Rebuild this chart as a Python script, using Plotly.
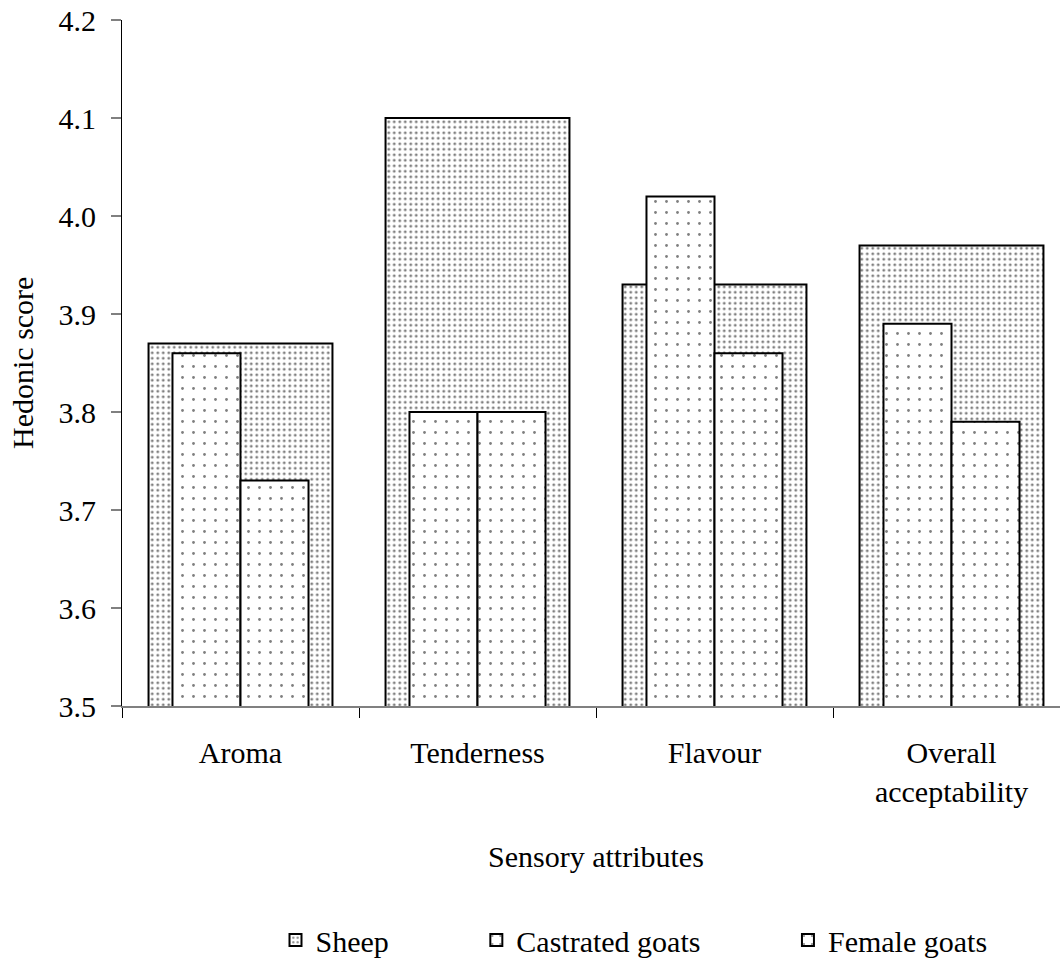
import plotly.graph_objects as go

# Sensory panel results
attributes = ["Aroma", "Tenderness", "Flavour", "Overall<br>acceptability"]
sheep = [3.87, 4.10, 3.93, 3.97]
castrated_goats = [3.86, 3.80, 4.02, 3.89]
female_goats = [3.73, 3.80, 3.86, 3.79]
series_names = ["Sheep", "Castrated goats", "Female goats"]

y_ticks = [3.5, 3.6, 3.7, 3.8, 3.9, 4.0, 4.1, 4.2]

FONT = "Liberation Serif, Times New Roman, serif"
W, H = 1060, 961
L, R, T, B = 122, 0, 20, 255

outline = dict(color="black", width=2)
NBSP = "\u00a0"
# extra spacing after legend entries
legend_gap = NBSP * 11

dense_dots = dict(shape=".", size=5.5, solidity=0.21,
                  fgcolor="black", bgcolor="white", fillmode="overlay")
sparse_dots = dict(shape=".", size=11, solidity=0.05,
                   fgcolor="black", bgcolor="white", fillmode="overlay")

fig = go.Figure()

# Wide background bar for sheep, narrow front bars for the goat groups
fig.add_trace(go.Bar(
    name=series_names[0] + legend_gap, x=attributes, y=sheep,
    width=0.776, offset=-0.388,
    marker=dict(color="white", line=outline, pattern=dense_dots),
))
fig.add_trace(go.Bar(
    name=series_names[1] + legend_gap, x=attributes, y=castrated_goats,
    width=0.287, offset=-0.287,
    marker=dict(color="white", line=outline, pattern=sparse_dots),
))
fig.add_trace(go.Bar(
    name=series_names[2], x=attributes, y=female_goats,
    width=0.287, offset=0.0,
    marker=dict(color="white", line=outline, pattern=sparse_dots),
))

plot_w = W - L - R
plot_h = H - T - B
cat_px = 237.0
x_hi = -0.5 + plot_w / cat_px

fig.update_layout(
    width=W, height=H,
    margin=dict(l=L, r=R, t=T, b=B, pad=0, autoexpand=False),
    barmode="overlay",
    paper_bgcolor="white", plot_bgcolor="white",
    font=dict(family=FONT, size=30, color="black"),
    showlegend=True,
    legend=dict(
        orientation="h", x=(634 - L) / plot_w, xanchor="center",
        y=(706 - 940) / plot_h, yanchor="middle",
        font=dict(family=FONT, size=30, color="black"),
        traceorder="normal",
        bgcolor="rgba(0,0,0,0)",
    ),
    xaxis=dict(
        type="category", range=[-0.5, x_hi],
        showline=True, linecolor="#808080", linewidth=2,
        ticks="outside", tickson="boundaries", ticklen=10,
        tickcolor="black", tickwidth=1,
        showgrid=False, zeroline=False,
        tickfont=dict(family=FONT, size=30, color="black"),
        ticklabelstandoff=19,
    ),
    yaxis=dict(
        range=[3.5, 4.2], tickvals=y_ticks, tickformat=".1f",
        showline=True, linecolor="black", linewidth=1,
        ticks="outside", ticklen=10, tickcolor="#808080", tickwidth=2,
        showgrid=False, zeroline=False,
        tickfont=dict(family=FONT, size=30, color="black"),
        ticklabelstandoff=9,
    ),
    annotations=[
        dict(text="Hedonic score", xref="paper", yref="paper",
             x=(22 - L) / plot_w, y=0.5, textangle=-90, showarrow=False,
             xanchor="center", yanchor="middle",
             font=dict(family=FONT, size=30, color="black")),
        dict(text="Sensory attributes", xref="paper", yref="paper",
             x=(596 - L) / plot_w, y=(706 - 857) / plot_h, showarrow=False,
             xanchor="center", yanchor="middle",
             font=dict(family=FONT, size=30, color="black")),
    ],
)

fig.write_html("out.html")
